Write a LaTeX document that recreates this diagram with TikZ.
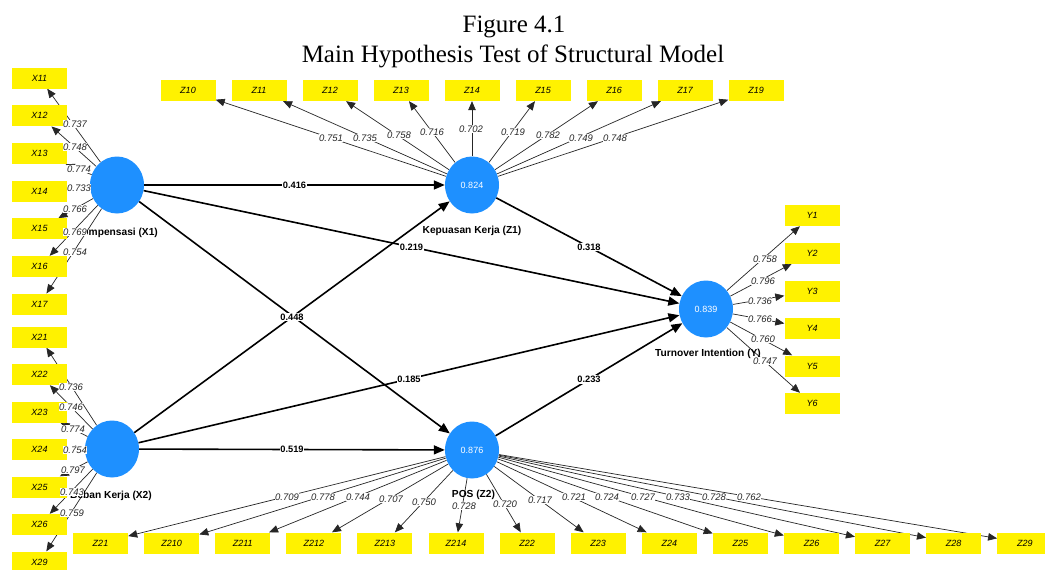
\documentclass[tikz,border=0pt]{standalone}
\usepackage{fontspec}
\setmainfont{Liberation Sans}
\newfontfamily\titlefont{Liberation Serif}
\usetikzlibrary{arrows.meta,shapes.geometric}
\definecolor{lvblue}{RGB}{30,144,255}
\pgfdeclarelayer{bgl}
\pgfdeclarelayer{edgel}
\pgfdeclarelayer{topl}
\pgfsetlayers{bgl,edgel,main,topl}
\begin{document}
\begin{tikzpicture}[x=1pt,y=-1pt,
  lv/.style={ellipse, fill=lvblue, minimum width=54pt, minimum height=57pt, inner sep=0pt, text=white, font=\fontsize{9}{10}\selectfont},
  ind/.style={rectangle, fill=yellow, minimum width=55pt, minimum height=21pt, inner sep=0pt, font=\fontsize{9}{10}\selectfont\itshape},
  ld/.style={fill=white, inner sep=0.6pt, font=\fontsize{9.5}{10}\selectfont\itshape, text=black!85},
  pl/.style={fill=white, inner sep=0.8pt, font=\fontsize{9.3}{10}\selectfont\bfseries},
  lvname/.style={inner sep=0pt, font=\fontsize{10.2}{11}\selectfont\bfseries},
  lload/.style={draw=black!85, line width=0.7pt, -{Triangle[length=9pt,width=7.5pt]}},
  lpath/.style={draw=black, line width=1.6pt, -{Triangle[length=11pt,width=9pt]}},
  ttl/.style={inner sep=0pt, font=\titlefont\fontsize{25}{28}\selectfont}
]
\begin{pgfonlayer}{bgl}
\fill[white] (0,0) rectangle (1045,570);
\end{pgfonlayer}
\useasboundingbox (0,0) rectangle (1045,570);

% titles
\node[ttl, anchor=base] (fig) at (514,32) {Figure 4.1};
\node[ttl, anchor=base] (title) at (513,62) {Main Hypothesis Test of Structural Model};

% latent variables
\node[lv] (X1) at (117,185) {};
\node[lv] (X2) at (112,449) {};
\node[lv] (Z1) at (472,185) {0.824};
\node[lv] (Z2) at (472,450) {0.876};
\node[lv] (Y)  at (706,309) {0.839};

\node[lvname] (nX1) at (116.5,233) {Kompensasi (X1)};
\node[lvname] (nX2) at (111,496) {Beban Kerja (X2)};
\node[lvname] (nZ1) at (472,231) {Kepuasan Kerja (Z1)};
\node[lvname] (nZ2) at (473.5,495) {POS (Z2)};
\node[lvname] (nY)  at (708,354) {Turnover Intention (Y)};

% indicators
\foreach \n/\y in {X11/78,X12/115.7,X13/153.4,X14/191.1,X15/228.8,X16/266.5,X17/304.2,
                   X21/337,X22/374.5,X23/412,X24/449.5,X25/487,X26/524.5,X29/562}
  \node[ind] (\n) at (39.5,\y) {\n};
\foreach \n/\x in {Z10/188,Z11/259,Z12/330,Z13/401,Z14/472,Z15/543,Z16/614,Z17/685,Z19/756}
  \node[ind] (\n) at (\x,90.5) {\n};
\foreach \n/\y in {Y1/215.5,Y2/253,Y3/291,Y4/328.5,Y5/366,Y6/403.5}
  \node[ind] (\n) at (812,\y) {\n};
\foreach \n/\x in {Z21/100.5,Z210/171.6,Z211/242.7,Z212/313.8,Z213/384.9,Z214/456,Z22/527.1,
                   Z23/598.2,Z24/669.3,Z25/740.4,Z26/811.5,Z27/882.6,Z28/953.7,Z29/1024.8}
  \node[ind] (\n) at (\x,543) {\n};

% loading arrows (behind boxes)
\begin{pgfonlayer}{edgel}
\foreach \n in {X11,X12,X13,X14,X15,X16,X17} \draw[lload] (X1) -- (\n);
\foreach \n in {X21,X22,X23,X24,X25,X26,X29} \draw[lload] (X2) -- (\n);
\foreach \n in {Z10,Z11,Z12,Z13,Z14,Z15,Z16,Z17,Z19} \draw[lload] (Z1) -- (\n);
\foreach \n in {Y1,Y2,Y3,Y4,Y5,Y6} \draw[lload] (Y) -- (\n);
\foreach \n in {Z21,Z210,Z211,Z212,Z213,Z214,Z22,Z23,Z24,Z25,Z26,Z27,Z28,Z29} \draw[lload] (Z2) -- (\n);
\end{pgfonlayer}

% loading labels (on top)
\begin{pgfonlayer}{topl}
\foreach \n/\v/\x/\y in {X11/0.737/75/124,X12/0.748/75/147,X13/0.774/79/169,X14/0.733/79/188,
    X15/0.766/75/209,X16/0.769/75/232,X17/0.754/75/252,
    X21/0.736/71/387,X22/0.746/71/407,X23/0.774/73/429,X24/0.754/75/450,
    X25/0.797/73/470,X26/0.743/72/492,X29/0.759/72/513,
    Z10/0.751/331/138,Z11/0.735/365/138,Z12/0.758/399/135,Z13/0.716/432/132,Z14/0.702/471/129,
    Z15/0.719/513/132,Z16/0.782/548/135,Z17/0.749/581/138,Z19/0.748/615/138,
    Y1/0.758/765/259,Y2/0.796/763/281,Y3/0.736/760/301,Y4/0.766/760/319,Y5/0.760/763/339,Y6/0.747/765/361,
    Z21/0.709/287/497,Z210/0.778/323/497,Z211/0.744/358/497,Z212/0.707/391/499,Z213/0.750/424/502,
    Z214/0.728/464/506,Z22/0.720/505/504,Z23/0.717/540/500,Z24/0.721/574/497,Z25/0.724/607/497,
    Z26/0.727/643/497,Z27/0.733/678/497,Z28/0.728/714/497,Z29/0.762/749/497}
  \node[ld] (l\n) at (\x,\y) {\v};
\end{pgfonlayer}

% structural paths
\draw[lpath] (X1) -- node[pl] (pX1Z1) {0.416} (Z1);
\draw[lpath] (X1) -- node[pl] (pX1Y) {0.219} (Y);
\draw[lpath] (X1) -- (Z2);
\draw[lpath] (X2) -- node[pl] (pX2Z1) {0.448} (Z1);
\draw[lpath] (X2) -- node[pl] (pX2Y) {0.185} (Y);
\draw[lpath] (X2) -- node[pl] (pX2Z2) {0.519} (Z2);
\draw[lpath] (Z1) -- node[pl] (pZ1Y) {0.318} (Y);
\draw[lpath] (Z2) -- node[pl] (pZ2Y) {0.233} (Y);
\end{tikzpicture}
\end{document}
